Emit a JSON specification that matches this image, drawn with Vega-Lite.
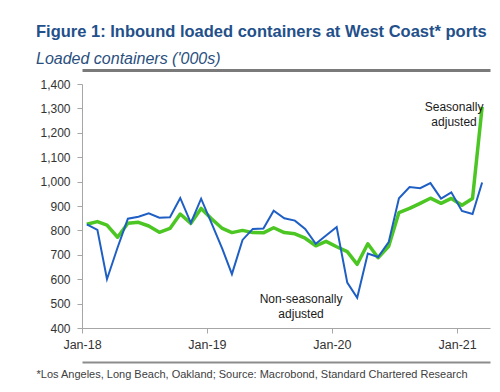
{
  "$schema": "https://vega.github.io/schema/vega-lite/v6.json",
  "width": 408,
  "height": 244,
  "autosize": {"type": "none"},
  "padding": {"left": 82, "top": 84, "right": 10, "bottom": 64},
  "background": "white",
  "config": {
    "view": {"stroke": null},
    "font": "Liberation Sans",
    "axis": {"labelFont": "Liberation Sans", "titleFont": "Liberation Sans"}
  },
  "title": {
    "text": "Figure 1: Inbound loaded containers at West Coast* ports",
    "subtitle": "Loaded containers ('000s)",
    "anchor": "start",
    "frame": "group",
    "dx": -46,
    "offset": 3,
    "font": "Liberation Sans",
    "fontSize": 16.5,
    "fontWeight": "bold",
    "color": "#23508a",
    "subtitleFont": "Liberation Sans",
    "subtitleFontSize": 16,
    "subtitleFontStyle": "italic",
    "subtitleColor": "#2a4f7e",
    "subtitlePadding": 11
  },
  "data": {
    "values": [
      {"date": "2018-01-15", "nsa": 825, "sa": 825},
      {"date": "2018-02-15", "nsa": 802, "sa": 836},
      {"date": "2018-03-15", "nsa": 600, "sa": 822},
      {"date": "2018-04-15", "nsa": 730, "sa": 772},
      {"date": "2018-05-15", "nsa": 848, "sa": 829},
      {"date": "2018-06-15", "nsa": 856, "sa": 833},
      {"date": "2018-07-15", "nsa": 870, "sa": 818},
      {"date": "2018-08-15", "nsa": 852, "sa": 792},
      {"date": "2018-09-15", "nsa": 854, "sa": 808},
      {"date": "2018-10-15", "nsa": 933, "sa": 867},
      {"date": "2018-11-15", "nsa": 831, "sa": 829},
      {"date": "2018-12-15", "nsa": 930, "sa": 890},
      {"date": "2019-01-15", "nsa": 828, "sa": 847},
      {"date": "2019-02-15", "nsa": 724, "sa": 808},
      {"date": "2019-03-15", "nsa": 621, "sa": 791},
      {"date": "2019-04-15", "nsa": 761, "sa": 800},
      {"date": "2019-05-15", "nsa": 806, "sa": 791},
      {"date": "2019-06-15", "nsa": 808, "sa": 790},
      {"date": "2019-07-15", "nsa": 881, "sa": 811},
      {"date": "2019-08-15", "nsa": 850, "sa": 791},
      {"date": "2019-09-15", "nsa": 840, "sa": 786},
      {"date": "2019-10-15", "nsa": 806, "sa": 768},
      {"date": "2019-11-15", "nsa": 745, "sa": 737},
      {"date": "2019-12-15", "nsa": 779, "sa": 755},
      {"date": "2020-01-15", "nsa": 814, "sa": 733},
      {"date": "2020-02-15", "nsa": 586, "sa": 713},
      {"date": "2020-03-15", "nsa": 524, "sa": 661},
      {"date": "2020-04-15", "nsa": 705, "sa": 745},
      {"date": "2020-05-15", "nsa": 691, "sa": 688},
      {"date": "2020-06-15", "nsa": 752, "sa": 735},
      {"date": "2020-07-15", "nsa": 932, "sa": 873},
      {"date": "2020-08-15", "nsa": 978, "sa": 890},
      {"date": "2020-09-15", "nsa": 973, "sa": 911},
      {"date": "2020-10-15", "nsa": 994, "sa": 932},
      {"date": "2020-11-15", "nsa": 930, "sa": 911},
      {"date": "2020-12-15", "nsa": 956, "sa": 931},
      {"date": "2021-01-15", "nsa": 880, "sa": 903},
      {"date": "2021-02-15", "nsa": 867, "sa": 931},
      {"date": "2021-03-15", "nsa": 996, "sa": 1306}
    ]
  },
  "resolve": {"axis": {"x": "independent", "y": "independent"}},
  "layer": [
    {
      "mark": {"type": "line", "color": "#4cc623", "strokeWidth": 3.5, "strokeJoin": "round"},
      "encoding": {
        "x": {
          "field": "date",
          "type": "temporal",
          "scale": {
            "type": "utc",
            "domain": [
              {"year": 2018, "month": 1, "date": 1, "utc": true},
              {"year": 2021, "month": 4, "date": 7, "utc": true}
            ]
          },
          "axis": {
            "orient": "bottom",
            "title": null,
            "format": "%b-%y",
            "values": [
              {"year": 2018, "month": 1, "date": 1, "utc": true},
              {"year": 2019, "month": 1, "date": 1, "utc": true},
              {"year": 2020, "month": 1, "date": 1, "utc": true},
              {"year": 2021, "month": 1, "date": 1, "utc": true}
            ],
            "grid": false,
            "domainColor": "#a6a6a6",
            "tickColor": "#a6a6a6",
            "tickSize": 5,
            "labelFontSize": 12.5,
            "labelColor": "#333333",
            "labelPadding": 5,
            "labelFlush": false
          }
        },
        "y": {
          "field": "sa",
          "type": "quantitative",
          "scale": {"domain": [400, 1400], "nice": false, "zero": false},
          "axis": {
            "title": null,
            "format": ",.0f",
            "values": [400, 500, 600, 700, 800, 900, 1000, 1100, 1200, 1300, 1400],
            "grid": false,
            "domainColor": "#a6a6a6",
            "tickColor": "#a6a6a6",
            "tickSize": 5,
            "labelFontSize": 12,
            "labelColor": "#333333",
            "labelPadding": 7
          }
        }
      }
    },
    {
      "mark": {"type": "line", "color": "#1f5fc4", "strokeWidth": 2, "strokeJoin": "miter"},
      "encoding": {
        "x": {
          "field": "date",
          "type": "temporal",
          "axis": {
            "orient": "top",
            "offset": 14,
            "title": null,
            "labels": false,
            "ticks": false,
            "grid": false,
            "domainColor": "#7a7a7a",
            "domainWidth": 3
          }
        },
        "y": {"field": "nsa", "type": "quantitative", "axis": null}
      }
    },
    {
      "data": {
        "values": [
          {"label": "Seasonally\nadjusted", "date": "2020-12-23", "value": 1306},
          {"label": "Non-seasonally\nadjusted", "date": "2019-10-03", "value": 519}
        ]
      },
      "mark": {
        "type": "text",
        "align": "center",
        "baseline": "middle",
        "lineBreak": "\n",
        "lineHeight": 15,
        "fontSize": 12,
        "font": "Liberation Sans",
        "color": "#1a1a1a"
      },
      "encoding": {
        "x": {
          "field": "date",
          "type": "temporal",
          "axis": {
            "orient": "bottom",
            "offset": 34,
            "labels": false,
            "ticks": false,
            "grid": false,
            "domainColor": "#8c8c8c",
            "domainWidth": 2,
            "title": "*Los Angeles, Long Beach, Oakland; Source: Macrobond, Standard Chartered Research",
            "titleAnchor": "start",
            "titleAlign": "left",
            "titleX": -46,
            "titleFontSize": 11,
            "titleFontWeight": "normal",
            "titleColor": "#404040",
            "titlePadding": 6
          }
        },
        "y": {"field": "value", "type": "quantitative", "axis": null},
        "text": {"field": "label", "type": "nominal"}
      }
    }
  ]
}
